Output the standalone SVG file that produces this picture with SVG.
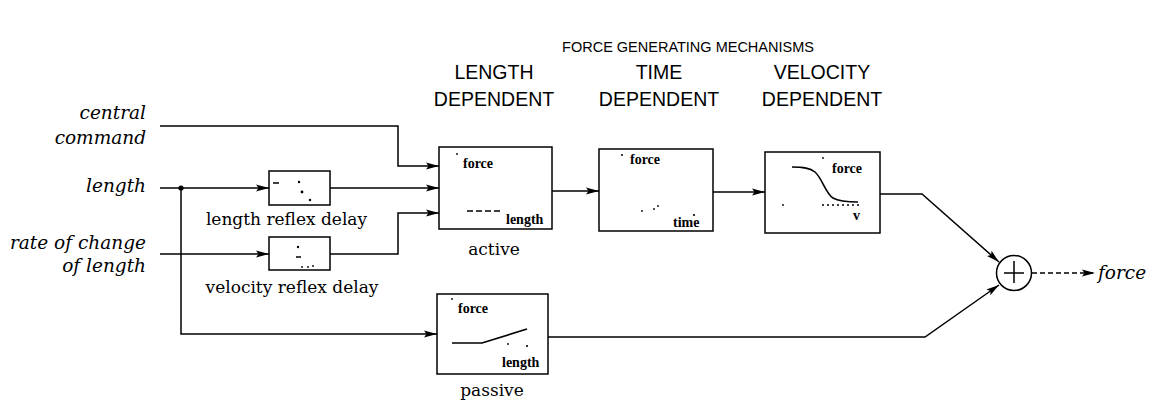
<svg xmlns="http://www.w3.org/2000/svg" width="1152" height="404" viewBox="0 0 1152 404">
<defs>
<marker id="arr" markerUnits="userSpaceOnUse" markerWidth="14" markerHeight="8" refX="13" refY="4" orient="auto">
<path d="M0,0.5 L13,4 L0,7.5 L2.5,4 z" fill="#000"/>
</marker>
<style>
.hdr{font-family:"Liberation Sans",Arial,sans-serif;font-size:19.5px;fill:#000;text-anchor:middle}
.ttl{font-family:"Liberation Sans",Arial,sans-serif;font-size:14.5px;fill:#000;text-anchor:middle}
.inp{font-family:"DejaVu Serif",serif;font-style:italic;font-size:18.5px;fill:#000;text-anchor:end}
.lbl{font-family:"DejaVu Serif",serif;font-size:17px;fill:#000;text-anchor:middle}
.ax{font-family:"Liberation Serif",serif;font-weight:bold;font-size:14px;fill:#000}
.box{fill:#fff;stroke:#000;stroke-width:1.5}
.ln{fill:none;stroke:#000;stroke-width:1.5}
.a{marker-end:url(#arr)}
.crv{fill:none;stroke:#000;stroke-width:1.6}
.dot{fill:#000}
</style>
</defs>
<rect width="1152" height="404" fill="#fff"/>

<text class="ttl" x="688" y="52">FORCE GENERATING MECHANISMS</text>
<text class="hdr" x="494" y="79">LENGTH</text>
<text class="hdr" x="494" y="106">DEPENDENT</text>
<text class="hdr" x="659" y="79">TIME</text>
<text class="hdr" x="659" y="106">DEPENDENT</text>
<text class="hdr" x="822" y="79">VELOCITY</text>
<text class="hdr" x="822" y="106">DEPENDENT</text>

<g id="inputs">
<text class="inp" x="146" y="119">central</text>
<text class="inp" x="146" y="144">command</text>
<text class="inp" x="146" y="192">length</text>
<text class="inp" x="146" y="249">rate of change</text>
<text class="inp" x="146" y="272">of length</text>
</g>

<g id="length-reflex-delay">
<rect class="box" x="269" y="171" width="61" height="34"/>
<path class="ln" d="M273,183 h6" stroke-width="1"/>
<circle class="dot" cx="299" cy="182" r="1.2"/>
<circle class="dot" cx="302" cy="192" r="1.4"/>
<circle class="dot" cx="310" cy="200" r="1.2"/>
<text class="lbl" x="286.5" y="225">length reflex delay</text>
</g>

<g id="velocity-reflex-delay">
<rect class="box" x="269" y="237" width="61" height="33"/>
<circle class="dot" cx="298" cy="247" r="1.2"/>
<path class="ln" d="M296,257 h5" stroke-width="1.2"/>
<circle class="dot" cx="302" cy="267" r="0.9"/>
<circle class="dot" cx="308" cy="267" r="0.9"/>
<circle class="dot" cx="313" cy="266" r="0.9"/>
<text class="lbl" x="292" y="293">velocity reflex delay</text>
</g>

<g id="active">
<rect class="box" x="439" y="147" width="113" height="82"/>
<circle class="dot" cx="457" cy="154" r="0.9"/>
<text class="ax" x="463" y="168">force</text>
<path class="ln" d="M467,211 h36" stroke-dasharray="6 3" stroke-width="1.2"/>
<text class="ax" x="506" y="224">length</text>
<text class="lbl" x="494" y="255">active</text>
</g>

<g id="time">
<rect class="box" x="599" y="149" width="114" height="82"/>
<circle class="dot" cx="622" cy="155" r="1"/>
<text class="ax" x="630" y="164">force</text>
<circle class="dot" cx="642" cy="211" r="0.9"/>
<circle class="dot" cx="654" cy="209" r="0.9"/>
<circle class="dot" cx="658" cy="206" r="0.9"/>
<circle class="dot" cx="694" cy="215" r="1.1"/>
<text class="ax" x="673" y="227">time</text>
</g>

<g id="velocity">
<rect class="box" x="765" y="152" width="115" height="81"/>
<circle class="dot" cx="823" cy="158" r="0.9"/>
<circle class="dot" cx="783" cy="205" r="0.9"/>
<path class="crv" d="M792,167 C804,167 810,168 815,172 C822,178 826,194 833,198 C840,202 850,202 858,202"/>
<path class="ln" d="M822,205 h40" stroke-dasharray="2 3" stroke-width="1"/>
<text class="ax" x="832" y="173">force</text>
<text class="ax" x="853" y="220">v</text>
</g>

<g id="passive">
<rect class="box" x="437" y="294" width="111" height="80"/>
<circle class="dot" cx="452" cy="299" r="0.9"/>
<text class="ax" x="458" y="313">force</text>
<path class="crv" d="M452,343 H482 L527,329"/>
<circle class="dot" cx="508" cy="344" r="0.9"/>
<circle class="dot" cx="527" cy="346" r="1.1"/>
<text class="ax" x="502" y="367">length</text>
<text class="lbl" x="492" y="396">passive</text>
</g>

<g id="sum">
<circle cx="1014" cy="273" r="17.5" fill="#fff" stroke="#000" stroke-width="1.5"/>
<path class="ln" d="M1004,273 H1024 M1014,261 V283" stroke-width="1.1"/>
</g>

<g id="output">
<text class="inp" x="1098" y="279" style="text-anchor:start">force</text>
</g>

<g id="connectors">
<path class="ln a" d="M160,126 H398 V166 H439"/>
<path class="ln a" d="M160,188 H269"/>
<circle class="dot" cx="181" cy="188" r="2.6"/>
<path class="ln a" d="M330,188 H439"/>
<path class="ln a" d="M160,254 H269"/>
<path class="ln a" d="M330,254 H398 V213 H439"/>
<path class="ln a" d="M181,188 V334 H437"/>
<path class="ln a" d="M552,191 H599"/>
<path class="ln a" d="M713,192 H765"/>
<path class="ln a" d="M880,194 H922 L999,262"/>
<path class="ln a" d="M548,337 H925 L999,285"/>
<path class="ln a" d="M1032,273 H1095" stroke-dasharray="5 3" stroke-width="1.2"/>
</g>
</svg>
